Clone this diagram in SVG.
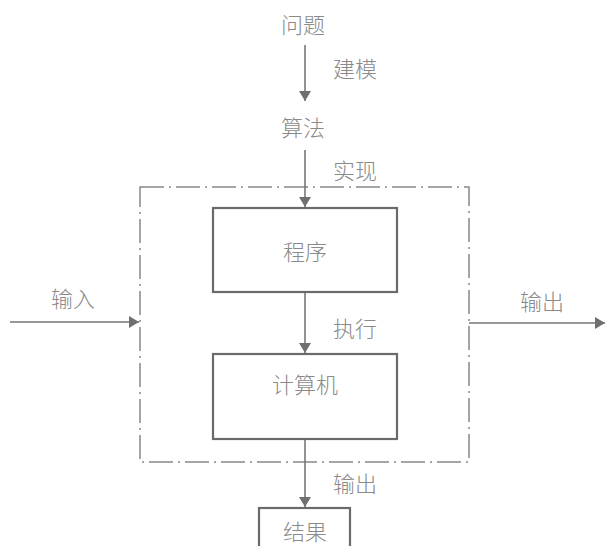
<svg xmlns="http://www.w3.org/2000/svg" width="606" height="546" viewBox="0 0 606 546">
<style>
text{font-family:"Noto Sans CJK SC","Noto Sans CJK TC",sans-serif;font-size:22px;font-weight:300;fill:#8a8a8a;text-anchor:middle;dominant-baseline:central}
.line{stroke:#777;stroke-width:1.6;fill:none}
.box{stroke:#6a6a6a;stroke-width:2.2;fill:#fff}
.dash{stroke:#888;stroke-width:1.5;fill:none;stroke-dasharray:24 5 2 5}
</style>
<defs>
<marker id="ah" markerWidth="10" markerHeight="12" refX="10" refY="6" orient="auto" markerUnits="userSpaceOnUse">
<path d="M0,0 L10,6 L0,12 Z" fill="#6f6f6f"/>
</marker>
</defs>
<rect id="frame" class="dash" x="140" y="187" width="329" height="275"/>
<g id="connectors">
<line class="line" x1="305" y1="45" x2="305" y2="101" marker-end="url(#ah)"/>
<line class="line" x1="305" y1="150" x2="305" y2="207" marker-end="url(#ah)"/>
<line class="line" x1="305" y1="293" x2="305" y2="353" marker-end="url(#ah)"/>
<line class="line" x1="305" y1="440" x2="305" y2="507" marker-end="url(#ah)"/>
<line class="line" x1="10" y1="322" x2="139" y2="322" marker-end="url(#ah)"/>
<line class="line" x1="469" y1="323" x2="605" y2="323" marker-end="url(#ah)"/>
</g>
<g id="n-problem"><text x="303" y="23">问题</text></g>
<g id="l-model"><text x="355" y="67">建模</text></g>
<g id="n-algo"><text x="303" y="126">算法</text></g>
<g id="l-impl"><text x="355" y="169">实现</text></g>
<g id="n-program"><rect class="box" x="213" y="208" width="184" height="84"/><text x="305" y="250">程序</text></g>
<g id="l-exec"><text x="355" y="327">执行</text></g>
<g id="n-computer"><rect class="box" x="213" y="354" width="184" height="85"/><text x="305" y="383">计算机</text></g>
<g id="l-out2"><text x="355" y="482">输出</text></g>
<g id="n-result"><rect class="box" x="259" y="508" width="91" height="50"/><text x="305" y="530">结果</text></g>
<g id="l-in"><text x="73" y="297">输入</text></g>
<g id="l-out"><text x="542" y="300">输出</text></g>
</svg>
